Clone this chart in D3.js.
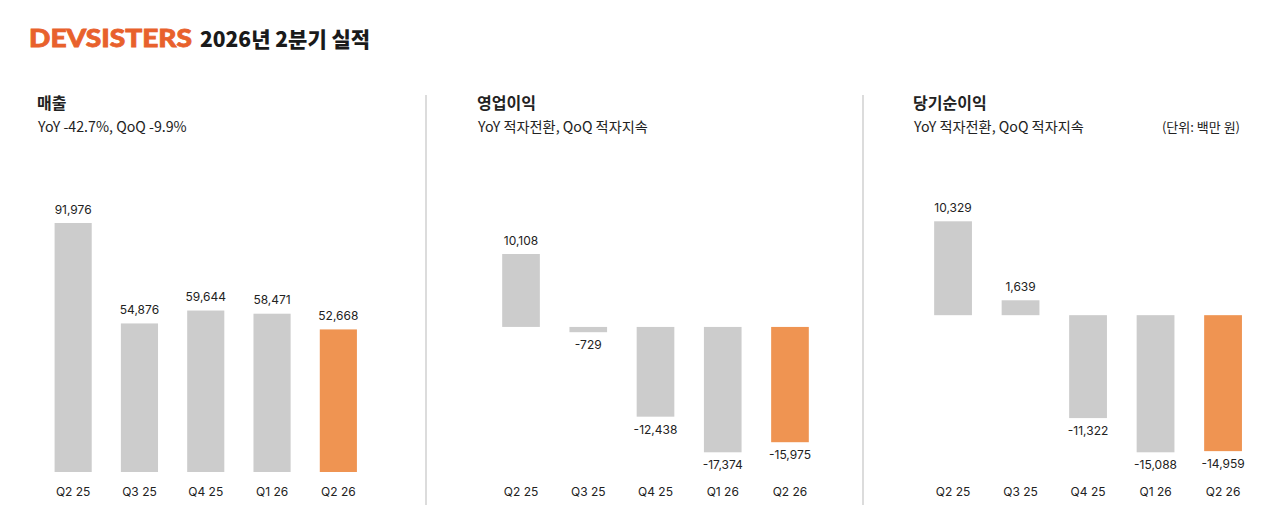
<!DOCTYPE html>
<html>
<head>
<meta charset="utf-8">
<script src="https://cdn.jsdelivr.net/npm/d3@7"></script>
<style>
  body { margin: 0; background: #fff; }
  text { font-family: Inter, "Noto Sans CJK KR", sans-serif; fill: #222; }
  .kr { font-family: "Noto Sans CJK KR", Inter, sans-serif; }
</style>
</head>
<body>
<div id="chart"></div>
<script>
const quarters = ["Q2 25", "Q3 25", "Q4 25", "Q1 26", "Q2 26"];
const revenue = [91976, 54876, 59644, 58471, 52668];
const operatingProfit = [10108, -729, -12438, -17374, -15975];
const netIncome = [10329, 1639, -11322, -15088, -14959];

const panelTitles = ["매출", "영업이익", "당기순이익"];
const panelSubtitles = ["YoY -42.7%, QoQ -9.9%", "YoY 적자전환, QoQ 적자지속", "YoY 적자전환, QoQ 적자지속"];

const gray = "#cccccc";
const orange = "#ef9452";

const svg = d3.select("#chart")
  .append("svg")
  .attr("width", 1280)
  .attr("height", 525);

// header
svg.append("text")
  .attr("x", 29)
  .attr("y", 46.5)
  .attr("textLength", 163)
  .attr("lengthAdjust", "spacingAndGlyphs")
  .style("font-family", "Lato, sans-serif")
  .style("font-weight", 900)
  .style("font-size", "25px")
  .style("stroke", "#e8612c")
  .style("stroke-width", 0.8)
  .style("fill", "#e8612c")
  .text("DEVSISTERS");

svg.append("text")
  .attr("class", "kr")
  .attr("x", 200)
  .attr("y", 47)
  .style("font-weight", 900)
  .style("font-size", "21px")
  .style("fill", "#1a1a1a")
  .text("2026년 2분기 실적");

const panels = [
  { values: revenue, textX: 37, range: [40, 371.5], yRange: [472, 223] },
  { values: operatingProfit, textX: 477, range: [487.4, 823.6], yRange: [452.3, 254] },
  { values: netIncome, textX: 913, range: [919.3, 1256.8], yRange: [452.3, 221.3] }
];

// separators
[426, 863].forEach((sx) => {
  svg.append("line")
    .attr("x1", sx).attr("x2", sx)
    .attr("y1", 95).attr("y2", 505)
    .attr("stroke", "#d0d0d0")
    .attr("stroke-width", 1.5);
});

panels.forEach((p, i) => {
  const g = svg.append("g");

  g.append("text")
    .attr("class", "kr")
    .attr("x", p.textX)
    .attr("y", 109)
    .style("font-weight", 700)
    .style("font-size", "16px")
    .text(panelTitles[i]);

  g.append("text")
    .attr("class", "kr")
    .attr("x", p.textX + 1)
    .attr("y", 131.5)
    .style("font-size", "14.2px")
    .text(panelSubtitles[i]);

  const x = d3.scaleBand()
    .domain(quarters)
    .range(p.range)
    .paddingInner(0.44)
    .paddingOuter(0.22);

  const data = quarters.map((q, j) => ({ q, v: p.values[j] }));
  const minV = Math.min(0, d3.min(p.values));
  const maxV = d3.max(p.values);

  const y = d3.scaleLinear()
    .domain([minV, maxV])
    .range(p.yRange);

  g.selectAll(".bar")
    .data(data)
    .enter()
    .append("rect")
    .attr("class", "bar")
    .attr("x", (d) => x(d.q))
    .attr("y", (d) => y(Math.max(0, d.v)))
    .attr("width", x.bandwidth())
    .attr("height", (d) => Math.abs(y(d.v) - y(0)))
    .attr("fill", (d, j) => (j === data.length - 1 ? orange : gray));

  g.selectAll(".val")
    .data(data)
    .enter()
    .append("text")
    .attr("class", "val")
    .attr("x", (d) => x(d.q) + x.bandwidth() / 2)
    .attr("y", (d) => (d.v >= 0 ? y(d.v) - 9.5 : y(d.v) + 17))
    .attr("text-anchor", "middle")
    .style("font-size", "12px")
    .text((d) => d3.format(",")(d.v).replace("−", "-"));

  const axis = g.append("g")
    .attr("transform", "translate(0,472)")
    .call(d3.axisBottom(x).tickSize(0).tickPadding(15));
  axis.select(".domain").remove();
  axis.selectAll("text")
    .style("font-family", "Inter, sans-serif")
    .style("font-size", "12px")
    .style("fill", "#222");
});

svg.append("text")
  .attr("class", "kr")
  .attr("x", 1240)
  .attr("y", 131.5)
  .attr("text-anchor", "end")
  .style("font-size", "13px")
  .text("(단위: 백만 원)");
</script>
</body>
</html>
